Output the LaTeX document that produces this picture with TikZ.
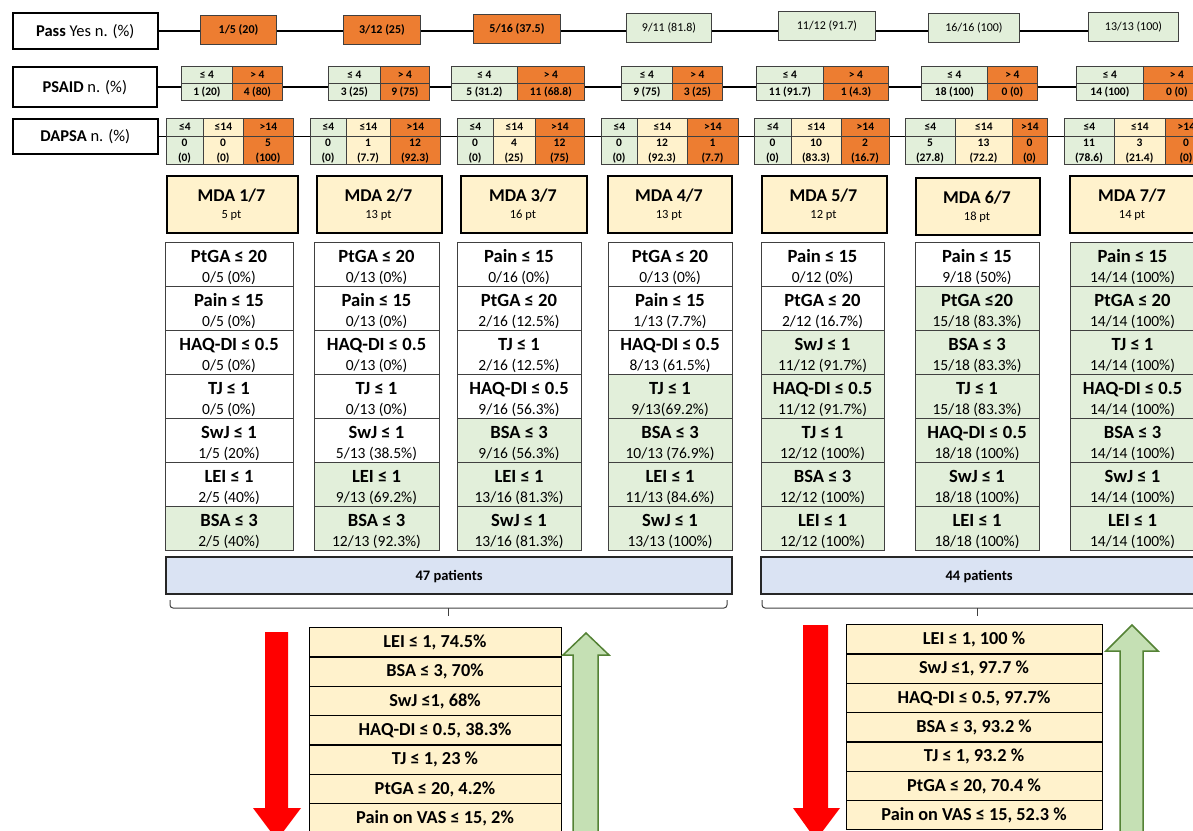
\documentclass[tikz,border=0pt]{standalone}
\usepackage{fontspec}
\setmainfont{Carlito}
\usetikzlibrary{backgrounds}
\definecolor{org}{HTML}{ED7D31}
\definecolor{cg}{HTML}{E2EFDA}
\definecolor{crm}{HTML}{FFF2CC}
\definecolor{blu}{HTML}{DAE3F3}
\definecolor{arrg}{HTML}{C5E0B4}
\definecolor{arrgd}{HTML}{548235}
\definecolor{bord}{HTML}{404040}
\newcommand\fs[1]{\fontsize{#1}{#1}\selectfont}
\newcommand\psbox[2]{\foreach \xa/\xb/\fl/\hd/\vl [count=\kk] in {#2} {
  \node[psc,fill=\fl,minimum width={(\xb-\xa)*1pt}] (#1h\kk) at (\xa,66) {\hd};
  \node[psc,fill=\fl,minimum width={(\xb-\xa)*1pt}] (#1v\kk) at (\xa,83) {\vl};
}}
\newcommand\dabox[2]{\foreach \xa/\xb/\fl/\hd/\va/\vb [count=\kk] in {#2} {
  \node[dah,fill=\fl,minimum width={(\xb-\xa)*1pt}] (#1h\kk) at (\xa,118) {\hd};
  \node[cell,fill=\fl,minimum width={(\xb-\xa)*1pt},minimum height=28.5pt] (#1c\kk) at (\xa,135.5) {};
  \node[dat] (#1a\kk) at ({(\xa+\xb)/2},146.5) {\va};
  \node[dat] (#1b\kk) at ({(\xa+\xb)/2},161) {\vb};
}}
\newcommand\mdahead[6]{%
  \node[mdab,minimum width={(#3-#2)*1pt}] (#1) at (#2,#4) {};
  \node[mdat] (#1t) at ({(#2+#3)/2},{#4+26.5}) {#5};
  \node[mdap] (#1p) at ({(#2+#3)/2},{#4+43}) {#6};
}
\newcommand\mdatab[5]{\foreach \lab/\vlu [count=\rr] in {#5} {
  \ifnum\rr<#4 \def\cf{white}\else\def\cf{cg}\fi
  \node[tcell,fill=\cf,minimum width={(#3-#2)*1pt}] (#1r\rr) at (#2,{242+(\rr-1)*44}) {};
  \node[tlab] (#1l\rr) at ({(#2+#3)/2},{262+(\rr-1)*44}) {\lab};
  \node[tval] (#1v\rr) at ({(#2+#3)/2},{282+(\rr-1)*44}) {\vlu};
}}
\newcommand\blist[5]{\foreach \itm [count=\rr] in {#5} {
  \node[lcell,minimum width={(#3-#2)*1pt}] (#1r\rr) at (#2,{#4+(\rr-1)*29.3}) {};
  \node[ltxt] (#1t\rr) at ({(#2+#3)/2},{#4+(\rr-1)*29.3+20.5}) {\itm};
}}
\begin{document}
\begin{tikzpicture}[x=1pt,y=-1pt,
 lbl/.style={draw=black,line width=1.6pt,fill=white,inner sep=0pt,anchor=north west,font=\fs{16.5},text height=10.6pt,text depth=0pt},
 pbox/.style={draw=bord,line width=1pt,inner sep=0pt,anchor=north west,minimum height=29pt,text height=7.6pt,text depth=0pt},
 cell/.style={draw=bord,line width=0.8pt,inner sep=0pt,anchor=north west},
 psc/.style={cell,minimum height=17pt,font=\fs{11.5}\bfseries,text height=7.3pt,text depth=0pt},
 dah/.style={cell,minimum height=17.5pt,font=\fs{11.5}\bfseries,text height=7.3pt,text depth=0pt},
 dat/.style={inner sep=0pt,anchor=base,font=\fs{11.5}\bfseries},
 mdab/.style={draw=black,line width=2.2pt,fill=crm,inner sep=0pt,anchor=north west,minimum height=57pt},
 mdat/.style={inner sep=0pt,anchor=base,font=\fs{18}\bfseries,text height=11.6pt,text depth=0pt},
 mdap/.style={inner sep=0pt,anchor=base,font=\fs{12.5},text height=8pt,text depth=0pt},
 tcell/.style={draw=bord,line width=0.9pt,inner sep=0pt,anchor=north west,minimum height=44pt},
 tlab/.style={inner sep=0pt,anchor=base,font=\fs{18.6}\bfseries},
 tval/.style={inner sep=0pt,anchor=base,font=\fs{15.5}},
 patb/.style={draw=black!85,line width=2.2pt,fill=blu,inner sep=0pt,anchor=north west,minimum height=37pt,font=\fs{14.5}\bfseries,text height=9.3pt,text depth=0pt},
 brc/.style={draw=black!75,line width=1pt,rounded corners=3pt},
 lcell/.style={draw=black,line width=1.3pt,fill=crm,inner sep=0pt,anchor=north west,minimum height=29.3pt},
 ltxt/.style={inner sep=0pt,anchor=base,font=\fs{18.3}\bfseries},
 conn/.style={draw=black,line width=1.5pt}]
\useasboundingbox (0,0) rectangle (1193,830);
\clip (0,0) rectangle (1193,830);
% Pass row
\node[lbl,minimum width=145pt,minimum height=36pt] (passl) at (12,12) {\textbf{Pass} Yes n. (\%)};
\node[pbox,fill=org,minimum width=76pt,font=\fs{12}\bfseries] (p1) at (200,15) {1/5 (20)};
\node[pbox,fill=org,minimum width=77pt,font=\fs{12}\bfseries] (p2) at (343,15) {3/12 (25)};
\node[pbox,fill=org,minimum width=87pt,font=\fs{12}\bfseries] (p3) at (473,14) {5/16 (37.5)};
\node[pbox,fill=cg,minimum width=85pt,font=\fs{12}] (p4) at (626,13) {9/11 (81.8)};
\node[pbox,fill=cg,minimum width=97pt,font=\fs{12}] (p5) at (778,11) {11/12 (91.7)};
\node[pbox,fill=cg,minimum width=91pt,font=\fs{12}] (p6) at (928,13) {16/16 (100)};
\node[pbox,fill=cg,minimum width=90pt,font=\fs{12}] (p7) at (1088,12) {13/13 (100)};
% PSAID row
\node[lbl,minimum width=144pt,minimum height=40pt] (psl) at (12,66) {\textbf{PSAID} n. (\%)};
\psbox{s1}{181/232/cg/≤ 4/1 (20),232/282/org/> 4/4 (80)}
\psbox{s2}{328/380/cg/≤ 4/3 (25),380/429/org/> 4/9 (75)}
\psbox{s3}{451/517/cg/≤ 4/5 (31.2),517/584/org/> 4/11 (68.8)}
\psbox{s4}{621/672/cg/≤ 4/9 (75),672/722/org/> 4/3 (25)}
\psbox{s5}{756/823/cg/≤ 4/11 (91.7),823/888/org/> 4/1 (4.3)}
\psbox{s6}{921/987/cg/≤ 4/18 (100),987/1037/org/> 4/0 (0)}
\psbox{s7}{1076/1143/cg/≤ 4/14 (100),1143/1210/org/> 4/0 (0)}
% DAPSA row
\node[lbl,minimum width=145pt,minimum height=35pt] (dal) at (12,118) {\textbf{DAPSA} n. (\%)};
\dabox{d1}{166/203/cg/≤4/0/(0),203/243/crm/≤14/0/(0),243/293/org/>14/5/(100)}
\dabox{d2}{310/346/cg/≤4/0/(0),346/390/crm/≤14/1/(7.7),390/440/org/>14/12/(92.3)}
\dabox{d3}{457/493/cg/≤4/0/(0),493/535/crm/≤14/4/(25),535/584/org/>14/12/(75)}
\dabox{d4}{601/637/cg/≤4/0/(0),637/687/crm/≤14/12/(92.3),687/738/org/>14/1/(7.7)}
\dabox{d5}{754/791/cg/≤4/0/(0),791/841/crm/≤14/10/(83.3),841/889/org/>14/2/(16.7)}
\dabox{d6}{905/955/cg/≤4/5/(27.8),955/1012/crm/≤14/13/(72.2),1012/1047/org/>14/0/(0)}
\dabox{d7}{1064/1114/cg/≤4/11/(78.6),1114/1165/crm/≤14/3/(21.4),1165/1207/org/>14/0/(0)}
\begin{scope}[on background layer]
\draw[conn] (passl.east) -- (passl.east -| p7.west);
\draw[conn] (psl.east) -- (psl.east -| s7h1.west);
\draw[conn] (dal.east) -- (dal.east -| d7h1.west);
\end{scope}
% MDA headers
\mdahead{m1}{166}{297}{175}{MDA 1/7}{5 pt}
\mdahead{m2}{316}{441}{175}{MDA 2/7}{13 pt}
\mdahead{m3}{460}{586}{175}{MDA 3/7}{16 pt}
\mdahead{m4}{607}{731}{175}{MDA 4/7}{13 pt}
\mdahead{m5}{761}{886}{175}{MDA 5/7}{12 pt}
\mdahead{m6}{915}{1039}{177}{MDA 6/7}{18 pt}
\mdahead{m7}{1069}{1195}{175}{MDA 7/7}{14 pt}
% tables
\mdatab{t1}{165}{293}{7}{{PtGA ≤ 20}/{0/5 (0\%)},{Pain ≤ 15}/{0/5 (0\%)},{HAQ-DI ≤ 0.5}/{0/5 (0\%)},{TJ ≤ 1}/{0/5 (0\%)},{SwJ ≤ 1}/{1/5 (20\%)},{LEI ≤ 1}/{2/5 (40\%)},{BSA ≤ 3}/{2/5 (40\%)}}
\mdatab{t2}{314}{439}{6}{{PtGA ≤ 20}/{0/13 (0\%)},{Pain ≤ 15}/{0/13 (0\%)},{HAQ-DI ≤ 0.5}/{0/13 (0\%)},{TJ ≤ 1}/{0/13 (0\%)},{SwJ ≤ 1}/{5/13 (38.5\%)},{LEI ≤ 1}/{9/13 (69.2\%)},{BSA ≤ 3}/{12/13 (92.3\%)}}
\mdatab{t3}{457}{581}{5}{{Pain ≤ 15}/{0/16 (0\%)},{PtGA ≤ 20}/{2/16 (12.5\%)},{TJ ≤ 1}/{2/16 (12.5\%)},{HAQ-DI ≤ 0.5}/{9/16 (56.3\%)},{BSA ≤ 3}/{9/16 (56.3\%)},{LEI ≤ 1}/{13/16 (81.3\%)},{SwJ ≤ 1}/{13/16 (81.3\%)}}
\mdatab{t4}{608}{732}{4}{{PtGA ≤ 20}/{0/13 (0\%)},{Pain ≤ 15}/{1/13 (7.7\%)},{HAQ-DI ≤ 0.5}/{8/13 (61.5\%)},{TJ ≤ 1}/{9/13(69.2\%)},{BSA ≤ 3}/{10/13 (76.9\%)},{LEI ≤ 1}/{11/13 (84.6\%)},{SwJ ≤ 1}/{13/13 (100\%)}}
\mdatab{t5}{761}{884}{3}{{Pain ≤ 15}/{0/12 (0\%)},{PtGA ≤ 20}/{2/12 (16.7\%)},{SwJ ≤ 1}/{11/12 (91.7\%)},{HAQ-DI ≤ 0.5}/{11/12 (91.7\%)},{TJ ≤ 1}/{12/12 (100\%)},{BSA ≤ 3}/{12/12 (100\%)},{LEI ≤ 1}/{12/12 (100\%)}}
\mdatab{t6}{915}{1039}{2}{{Pain ≤ 15}/{9/18 (50\%)},{PtGA ≤20}/{15/18 (83.3\%)},{BSA ≤ 3}/{15/18 (83.3\%)},{TJ ≤ 1}/{15/18 (83.3\%)},{HAQ-DI ≤ 0.5}/{18/18 (100\%)},{SwJ ≤ 1}/{18/18 (100\%)},{LEI ≤ 1}/{18/18 (100\%)}}
\mdatab{t7}{1070}{1195}{1}{{Pain ≤ 15}/{14/14 (100\%)},{PtGA ≤ 20}/{14/14 (100\%)},{TJ ≤ 1}/{14/14 (100\%)},{HAQ-DI ≤ 0.5}/{14/14 (100\%)},{BSA ≤ 3}/{14/14 (100\%)},{SwJ ≤ 1}/{14/14 (100\%)},{LEI ≤ 1}/{14/14 (100\%)}}
% patients
\node[patb,minimum width=566pt] (pat1) at (165,556) {47 patients};
\node[patb,minimum width=436pt] (pat2) at (760,556) {44 patients};
\draw[brc] (170,600) -- (170,608) -- (727,608) -- (727,600);
\draw[brc] (448,608) -- (448,616);
\draw[brc] (762,600) -- (762,608) -- (1210,608);
\draw[brc] (977,608) -- (977,616);
% bottom lists
\blist{b1}{309}{561}{627}{{LEI ≤ 1, 74.5\%},{BSA ≤ 3, 70\%},{SwJ ≤1, 68\%},{HAQ-DI ≤ 0.5, 38.3\%},{TJ ≤ 1, 23 \%},{PtGA ≤ 20, 4.2\%},{Pain on VAS ≤ 15, 2\%}}
\blist{b2}{846}{1102}{624}{{LEI ≤ 1, 100 \%},{SwJ ≤1, 97.7 \%},{HAQ-DI ≤ 0.5, 97.7\%},{BSA ≤ 3, 93.2 \%},{TJ ≤ 1, 93.2 \%},{PtGA ≤ 20, 70.4 \%},{Pain on VAS ≤ 15, 52.3 \%}}
% block arrows
\fill[red] (265,632) -- (288,632) -- (288,808) -- (301,808) -- (277,840) -- (253,808) -- (265,808) -- cycle;
\fill[red] (803,625) -- (828,625) -- (828,808) -- (840,808) -- (816,840) -- (793,808) -- (803,808) -- cycle;
\filldraw[fill=arrg,draw=arrgd,line width=1.5pt] (586,633) -- (609,655) -- (598,655) -- (598,850) -- (573,850) -- (573,655) -- (563,655) -- cycle;
\filldraw[fill=arrg,draw=arrgd,line width=1.5pt] (1132,625) -- (1158,651) -- (1143,651) -- (1143,850) -- (1120,850) -- (1120,651) -- (1106,651) -- cycle;
\end{tikzpicture}
\end{document}
